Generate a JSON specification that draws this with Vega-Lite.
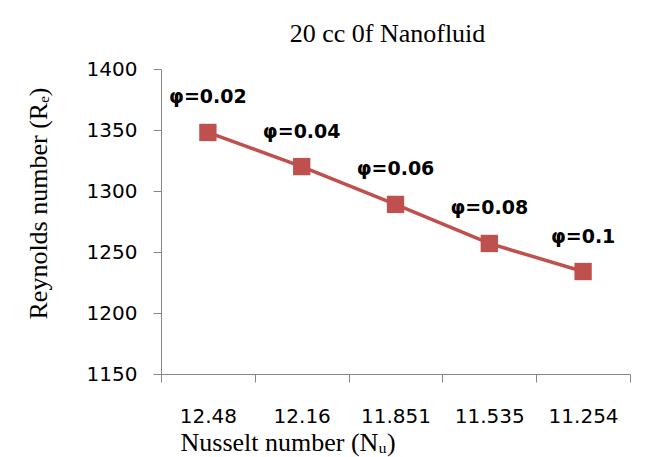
{
  "$schema": "https://vega.github.io/schema/vega-lite/v6.json",
  "autosize": {"type": "none"},
  "padding": {"left": 161, "top": 69, "right": 38, "bottom": 83},
  "width": 469,
  "height": 305,
  "background": "white",
  "title": {
    "text": "20 cc 0f Nanofluid",
    "font": "Liberation Serif",
    "fontSize": 26,
    "fontWeight": "normal",
    "color": "#000000",
    "anchor": "middle",
    "dx": -8,
    "offset": 12
  },
  "data": {
    "values": [
      {"Nu": "12.48", "Re": 1348, "label": "φ=0.02"},
      {"Nu": "12.16", "Re": 1320, "label": "φ=0.04"},
      {"Nu": "11.851", "Re": 1289, "label": "φ=0.06"},
      {"Nu": "11.535", "Re": 1257, "label": "φ=0.08"},
      {"Nu": "11.254", "Re": 1234, "label": "φ=0.1"}
    ]
  },
  "encoding": {
    "x": {
      "field": "Nu",
      "type": "ordinal",
      "sort": null,
      "scale": {"type": "band", "paddingInner": 0, "paddingOuter": 0},
      "axis": {
        "title": "Nusselt number (Nᵤ)",
        "titleFont": "Liberation Serif",
        "titleFontSize": 26,
        "titleFontWeight": "normal",
        "titleColor": "#000000",
        "titleAlign": "left",
        "titleAnchor": null,
        "titleX": 19,
        "titleY": 76,
        "titleBaseline": "alphabetic",
        "labelFont": "DejaVu Sans",
        "labelFontSize": 20,
        "labelColor": "#000000",
        "labelAngle": 0,
        "labelBaseline": "alphabetic",
        "labelPadding": 40,
        "tickBand": "extent",
        "tickSize": 8,
        "tickColor": "#868686",
        "domainColor": "#868686",
        "grid": false
      }
    },
    "y": {
      "field": "Re",
      "type": "quantitative",
      "scale": {"domain": [1150, 1400], "nice": false, "zero": false},
      "axis": {
        "title": "Reynolds number (Rₑ)",
        "titleFont": "Liberation Serif",
        "titleFontSize": 26,
        "titleFontWeight": "normal",
        "titleColor": "#000000",
        "titleAngle": -90,
        "titleAlign": "center",
        "titleAnchor": null,
        "titleBaseline": "middle",
        "titleX": -123,
        "titleY": 134,
        "values": [1150, 1200, 1250, 1300, 1350, 1400],
        "format": "d",
        "labelFont": "DejaVu Sans",
        "labelFontSize": 20,
        "labelColor": "#000000",
        "labelPadding": 16,
        "tickSize": 8,
        "tickColor": "#868686",
        "domainColor": "#868686",
        "grid": false
      }
    }
  },
  "layer": [
    {
      "mark": {"type": "line", "color": "#C0504D", "strokeWidth": 3.5}
    },
    {
      "mark": {"type": "point", "shape": "square", "filled": true, "color": "#C0504D", "opacity": 1, "size": 300}
    },
    {
      "mark": {"type": "text", "font": "DejaVu Sans", "fontSize": 19, "fontWeight": "bold", "color": "#000000", "align": "center", "baseline": "alphabetic", "dy": -29},
      "encoding": {"text": {"field": "label"}}
    }
  ],
  "config": {
    "view": {"stroke": null}
  }
}
